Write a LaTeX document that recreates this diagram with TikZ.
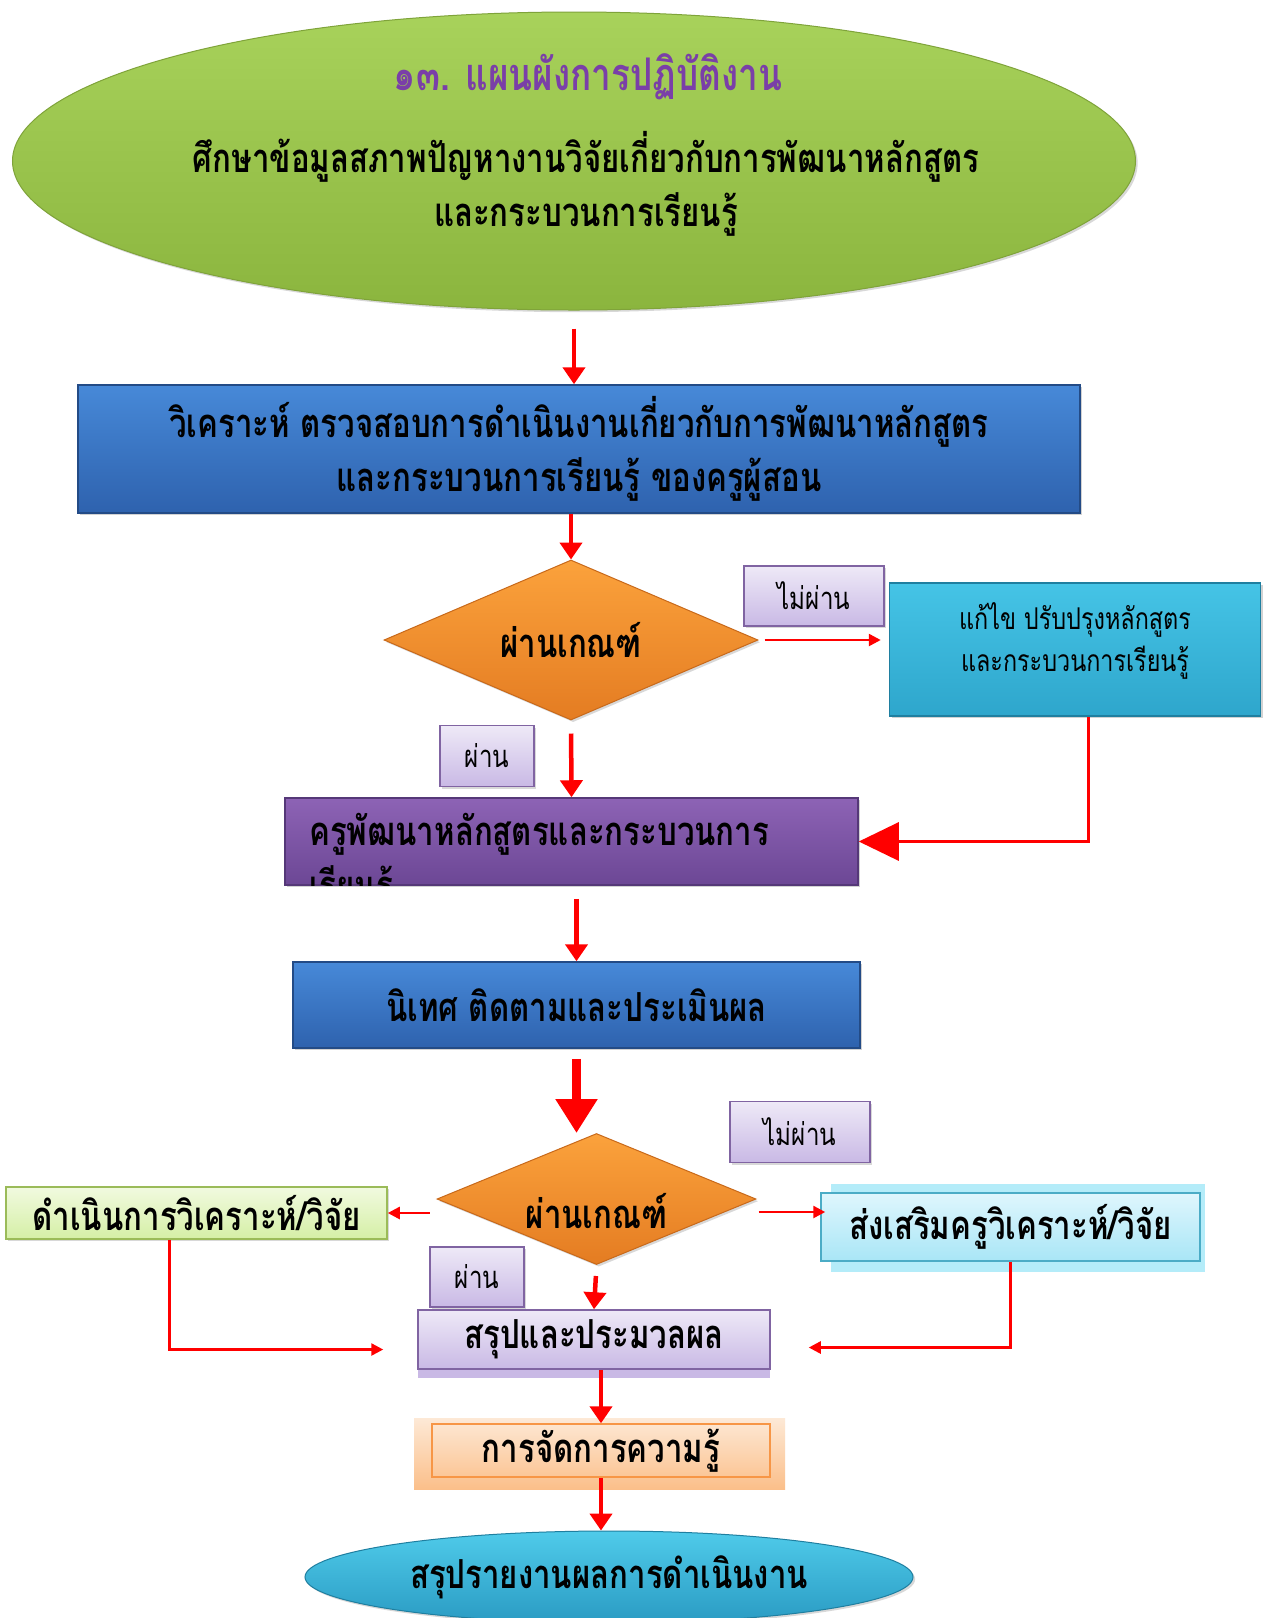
\documentclass[tikz,border=0pt]{standalone}
\usepackage{fontspec}
\usepackage{tikz}
\usetikzlibrary{arrows.meta,shapes.geometric,shadows}

\newfontfamily\thaifont[Script=Thai,FakeStretch=0.78]{Loma}

\definecolor{plangreen}{HTML}{A8D25B}
\definecolor{plangreendark}{HTML}{8BB53E}
\definecolor{planedge}{HTML}{7FA33A}
\definecolor{titlepurple}{HTML}{7A3FA8}
\definecolor{boxblue}{HTML}{4789D8}
\definecolor{boxbluedark}{HTML}{2E62AE}
\definecolor{boxblueedge}{HTML}{234B86}
\definecolor{orangetop}{HTML}{FBA23C}
\definecolor{orangebot}{HTML}{E47C22}
\definecolor{orangeedge}{HTML}{C8691A}
\definecolor{lilactop}{HTML}{EEE9F7}
\definecolor{lilacbot}{HTML}{C9B9E5}
\definecolor{lilacedge}{HTML}{8064A2}
\definecolor{cyantop}{HTML}{45C4E6}
\definecolor{cyanbot}{HTML}{2EA6CC}
\definecolor{cyanedge}{HTML}{1F7FA0}
\definecolor{violettop}{HTML}{8D63B5}
\definecolor{violetbot}{HTML}{6C4795}
\definecolor{violetedge}{HTML}{553878}
\definecolor{limetop}{HTML}{F1FADF}
\definecolor{limebot}{HTML}{D5EFA6}
\definecolor{limeedge}{HTML}{9BBB59}
\definecolor{skytop}{HTML}{DFF6FD}
\definecolor{skybot}{HTML}{A9E6F6}
\definecolor{skyedge}{HTML}{4BACC6}
\definecolor{skyback}{HTML}{B4ECF9}
\definecolor{peachtop}{HTML}{FDE9D6}
\definecolor{peachbot}{HTML}{FBBF8A}
\definecolor{peachedge}{HTML}{F79646}
\definecolor{reporttop}{HTML}{4FCBEA}
\definecolor{reportbot}{HTML}{2A9BC3}
\definecolor{arrowred}{HTML}{FF0000}

\begin{document}
\begin{tikzpicture}[x=1pt,y=-1pt]
  \tikzstyle{txt} = [font=\thaifont\bfseries\fontsize{40}{54}\selectfont, align=center, inner sep=0pt]
  \tikzstyle{small} = [font=\thaifont\fontsize{30}{42}\selectfont, align=center, inner sep=0pt]
  \tikzstyle{tag} = [draw=lilacedge, line width=1.5pt, top color=lilactop, bottom color=lilacbot,
                     font=\thaifont\fontsize{31}{36}\selectfont, inner sep=0pt, drop shadow={opacity=0.3}]
  \tikzstyle{bluebox} = [draw=boxblueedge, line width=1.5pt, top color=boxblue, bottom color=boxbluedark,
                         drop shadow={opacity=0.35}, txt]
  \tikzstyle{check} = [diamond, aspect=2.3, draw=orangeedge, line width=1pt, top color=orangetop,
                       bottom color=orangebot, drop shadow={opacity=0.3}, txt]
  \tikzstyle{arr} = [draw=arrowred, line width=4.5pt, -{Triangle[width=22pt,length=17pt]}]
  \tikzstyle{thinarr} = [draw=arrowred, line width=2.5pt, -{Triangle[width=12pt,length=12pt]}]
  \tikzstyle{heavyarr} = [draw=arrowred, line width=9pt, -{Triangle[width=40pt,length=34pt]}]
  \tikzstyle{backarr} = [draw=arrowred, line width=3pt, -{Triangle[width=38pt,length=40pt]}]

  \useasboundingbox (0,0) rectangle (1265,1618);
  \fill[white] (0,0) rectangle (1265,1618);

  % top ellipse
  \node[ellipse, draw=planedge, line width=1pt, top color=plangreen, bottom color=plangreendark,
        minimum width=1123pt, minimum height=298pt, drop shadow={opacity=0.3}] (plan) at (574,161) {};
  \node[txt, text=titlepurple, font=\thaifont\bfseries\fontsize{45}{54}\selectfont] (plantitle) at (588,77)
    {๑๓. แผนผังการปฏิบัติงาน};
  \node[txt] (plantext) at (586,184) {ศึกษาข้อมูลสภาพปัญหางานวิจัยเกี่ยวกับการพัฒนาหลักสูตร\\และกระบวนการเรียนรู้};

  \node[bluebox, minimum width=1002pt, minimum height=128pt] (analyse) at (579,449)
    {วิเคราะห์ ตรวจสอบการดำเนินงานเกี่ยวกับการพัฒนาหลักสูตร\\และกระบวนการเรียนรู้ ของครูผู้สอน};

  \node[check, minimum width=374pt, minimum height=160pt] (check1) at (571,640) {ผ่านเกณฑ์};
  \node[tag, minimum width=140pt, minimum height=60pt] (fail1) at (814,596) {ไม่ผ่าน};
  \node[draw=cyanedge, line width=1.5pt, top color=cyantop, bottom color=cyanbot,
        minimum width=371pt, minimum height=133pt, drop shadow={opacity=0.35}] (revise) at (1075,649.5) {};
  \node[small] (revisetext) at (1075,641) {แก้ไข ปรับปรุงหลักสูตร\\และกระบวนการเรียนรู้};
  \node[tag, minimum width=94pt, minimum height=61pt] (pass1) at (487,756) {ผ่าน};

  \node[draw=violetedge, line width=1.5pt, top color=violettop, bottom color=violetbot,
        minimum width=573pt, minimum height=87pt, drop shadow={opacity=0.35}] (teacher) at (571.5,841.5) {};
  \begin{scope}
    \clip (teacher.north west) rectangle (teacher.south east);
    \node[txt, align=left, anchor=north west] (teachertext) at (309,813)
      {ครูพัฒนาหลักสูตรและกระบวนการ\\เรียนรู้};
  \end{scope}

  \node[bluebox, minimum width=567pt, minimum height=86pt] (monitor) at (576.5,1005) {นิเทศ ติดตามและประเมินผล};

  \node[check, minimum width=319pt, minimum height=131pt] (check2) at (596.5,1199) {};
  \node[txt] (check2text) at (596.5,1211) {ผ่านเกณฑ์};
  \node[tag, minimum width=140pt, minimum height=61pt] (fail2) at (800,1132) {ไม่ผ่าน};
  \node[tag, minimum width=94pt, minimum height=60pt] (pass2) at (477,1277) {ผ่าน};

  \node[txt, draw=limeedge, line width=1.5pt, top color=limetop, bottom color=limebot,
        minimum width=381pt, minimum height=52pt, drop shadow={opacity=0.3}] (act) at (196.5,1213)
    {ดำเนินการวิเคราะห์/วิจัย};
  \fill[skyback] (831,1184) rectangle (1205,1272);
  \node[txt, draw=skyedge, line width=1.5pt, top color=skytop, bottom color=skybot,
        minimum width=379pt, minimum height=68pt] (promote) at (1010.5,1227)
    {ส่งเสริมครูวิเคราะห์/วิจัย};

  \fill[lilacbot] (418,1340) rectangle (770,1378);
  \node[txt, draw=lilacedge, line width=1.5pt, top color=lilactop, bottom color=lilacbot,
        minimum width=352pt, minimum height=59pt] (summary) at (594,1339.5) {สรุปและประมวลผล};

  \node[top color=peachtop, bottom color=peachbot, minimum width=371pt, minimum height=71pt] (kmback) at (599.5,1453.5) {};
  \node[txt, draw=peachedge, line width=1.5pt, minimum width=338pt, minimum height=53pt] (km) at (601,1450.5)
    {การจัดการความรู้};

  \node[txt, ellipse, draw=cyanedge, line width=1pt, top color=reporttop, bottom color=reportbot,
        minimum width=608pt, minimum height=92pt, drop shadow={opacity=0.3}] (report) at (609,1577)
    {สรุปรายงานผลการดำเนินงาน};

  % connectors
  \draw[arr, shorten <=18pt] (plan.south) -- (plan.south |- analyse.north);
  \draw[arr] (check1.north |- analyse.south) -- (check1.north);
  \draw[thinarr, shorten <=6pt, shorten >=8pt] (check1.east) -- (check1.east -| revise.west);
  \draw[arr, shorten <=13pt] (check1.south) -- (teacher.north);
  \draw[backarr] ([xshift=13pt]revise.south) |- (teacher.east);
  \draw[arr, shorten <=13pt] (monitor.north |- teacher.south) -- (monitor.north);
  \draw[heavyarr, shorten <=10pt] (monitor.south) -- (monitor.south |- check2.north);
  \draw[thinarr, shorten <=7pt] (act.east -| check2.west) -- (act.east);
  \draw[thinarr, shorten <=2pt, shorten >=-5pt] ([yshift=-13pt]check2.east) -- ([yshift=-13pt]check2.east -| promote.west);
  \draw[arr, shorten <=11pt] (check2.south) -- (summary.north);
  \draw[thinarr, shorten >=34pt] ([xshift=-27pt]act.south) |- ([yshift=-10pt]summary.west);
  \draw[thinarr, shorten >=38pt] (promote.south) |- ([yshift=-8pt]summary.east);
  \draw[arr] (km.north |- summary.south) -- (km.north);
  \draw[arr] (km.south) -- (km.south |- report.north);
\end{tikzpicture}
\end{document}
